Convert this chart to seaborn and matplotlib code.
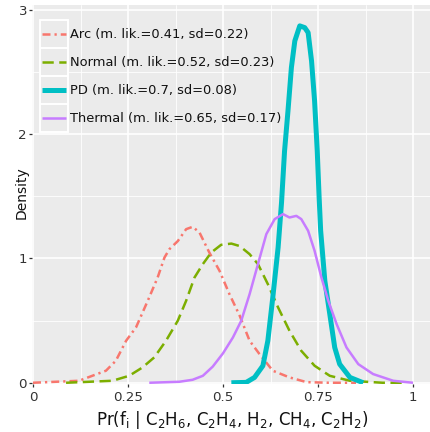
import numpy as np
import pandas as pd
import matplotlib
matplotlib.use("Agg")
import matplotlib.pyplot as plt
import seaborn as sns
from matplotlib.patches import Rectangle
from matplotlib.lines import Line2D
from matplotlib.legend_handler import HandlerBase
from matplotlib.ticker import FixedLocator

# ---- data ----
arc_x = [0.0, 0.121, 0.192, 0.218, 0.245, 0.271, 0.302, 0.328, 0.346, 0.359, 0.381, 0.403,
         0.42, 0.438, 0.464, 0.491, 0.517, 0.544, 0.57, 0.596, 0.631, 0.675, 0.72, 0.78, 0.85]
arc_y = [0.0, 0.016, 0.097, 0.177, 0.338, 0.445, 0.66, 0.847, 1.008, 1.075, 1.14, 1.236,
         1.255, 1.21, 1.048, 0.90, 0.713, 0.539, 0.338, 0.231, 0.097, 0.043, 0.005, 0.0, 0.0]

normal_x = [0.087, 0.209, 0.253, 0.288, 0.319, 0.35, 0.381, 0.403, 0.425, 0.447, 0.469, 0.495,
            0.522, 0.544, 0.57, 0.592, 0.618, 0.645, 0.675, 0.706, 0.741, 0.781, 0.834, 0.92, 0.984]
normal_y = [0.0, 0.016, 0.056, 0.123, 0.204, 0.338, 0.499, 0.66, 0.847, 0.955, 1.048, 1.11,
            1.12, 1.10, 1.035, 0.955, 0.794, 0.606, 0.418, 0.257, 0.137, 0.056, 0.016, 0.0, 0.0]

pd_x = [0.522, 0.561, 0.583, 0.605, 0.618, 0.631, 0.645, 0.654, 0.662, 0.671, 0.68, 0.689,
        0.702, 0.715, 0.724, 0.733, 0.741, 0.748, 0.753, 0.757, 0.768, 0.781, 0.794, 0.807,
        0.834, 0.869]
pd_y = [0.0, 0.003, 0.043, 0.137, 0.338, 0.686, 1.088, 1.45, 1.866, 2.188, 2.537, 2.751,
        2.872, 2.858, 2.818, 2.59, 2.269, 1.866, 1.49, 1.223, 0.82, 0.553, 0.284, 0.15,
        0.043, 0.0]

thermal_x = [0.306, 0.385, 0.42, 0.447, 0.473, 0.5, 0.526, 0.548, 0.57, 0.592, 0.614, 0.636,
             0.658, 0.675, 0.693, 0.706, 0.724, 0.741, 0.759, 0.777, 0.799, 0.825, 0.856,
             0.895, 0.948, 1.0]
thermal_y = [0.0, 0.008, 0.024, 0.056, 0.13, 0.237, 0.364, 0.499, 0.713, 0.955, 1.196, 1.317,
             1.357, 1.33, 1.343, 1.317, 1.223, 1.062, 0.847, 0.66, 0.472, 0.284, 0.15,
             0.07, 0.016, 0.0]

labels = ["Arc (m. lik.=0.41, sd=0.22)", "Normal (m. lik.=0.52, sd=0.23)",
          "PD (m. lik.=0.7, sd=0.08)", "Thermal (m. lik.=0.65, sd=0.17)"]
x_ticks = [0, 0.25, 0.5, 0.75, 1]
x_tick_labels = ["0", "0.25", "0.5", "0.75", "1"]
y_ticks = [0, 1, 2, 3]
y_tick_labels = ["0", "1", "2", "3"]

series = [(arc_x, arc_y), (normal_x, normal_y), (pd_x, pd_y), (thermal_x, thermal_y)]
frames = []
for lab, (xs, ys) in zip(labels, series):
    frames.append(pd.DataFrame({"x": xs, "density": ys, "group": lab}))
df = pd.concat(frames, ignore_index=True)

colors = ["#F8766D", "#7CAE00", "#00BFC4", "#C77CFF"]
widths = [1.8, 1.8, 3.6, 1.8]
dash_styles = [(3.2, 1.6, 0.9, 1.6), (4.5, 2.2), None, None]

sns.set_theme(style="darkgrid")
plt.rcParams["font.family"] = ["DejaVu Sans"]
plt.rcParams["mathtext.fontset"] = "dejavusans"

fig = plt.figure(figsize=(4.30, 4.32), dpi=100)
ax = fig.add_axes([32 / 430, 1 - 384 / 432, (430 - 32) / 430, (384 - 5) / 432])
ax.set_facecolor("#EBEBEB")


class KeyHandler(HandlerBase):
    def create_artists(self, legend, orig_handle, xdescent, ydescent, width, height,
                       fontsize, trans):
        color, lw, dashes = orig_handle
        x0, y0 = -xdescent, -ydescent
        r = Rectangle((x0, y0), width, height, facecolor="#EBEBEB", edgecolor="white",
                      linewidth=1.4, transform=trans)
        yc = y0 + height / 2.0
        ln = Line2D([x0 + 1.5, x0 + width - 1.5], [yc, yc], color=color, linewidth=lw,
                    solid_capstyle="butt")
        if dashes is not None:
            ln.set_dashes(dashes)
        ln.set_transform(trans)
        return [r, ln]


handles = []
for lab, c, w, d in zip(labels, colors, widths, dash_styles):
    sub = df[df["group"] == lab]
    sns.lineplot(data=sub, x="x", y="density", ax=ax, color=c, linewidth=w,
                 estimator=None, sort=True, legend=False)
    ln = ax.get_lines()[-1]
    ln.set_solid_capstyle("butt")
    ln.set_solid_joinstyle("round")
    if d is not None:
        ln.set_dashes(d)
    handles.append((c, w, d))

ax.set_xlim(-1 / 380, 397 / 380)
ax.set_ylim(-0.01, 3.04)
ax.xaxis.set_major_locator(FixedLocator(x_ticks))
ax.yaxis.set_major_locator(FixedLocator(y_ticks))
ax.set_xticklabels(x_tick_labels)
ax.set_yticklabels(y_tick_labels)
ax.xaxis.set_minor_locator(FixedLocator([0.125, 0.375, 0.625, 0.875]))
ax.yaxis.set_minor_locator(FixedLocator([0.5, 1.5, 2.5]))
ax.grid(which="major", color="white", linewidth=1.2)
ax.grid(which="minor", color="white", linewidth=0.6)
ax.set_axisbelow(True)
for s in ax.spines.values():
    s.set_visible(False)
ax.tick_params(axis="both", which="major", length=2.4, width=0.9, color="#333333",
               labelsize=9.6, labelcolor="#333333", pad=1.2,
               bottom=True, left=True)
ax.tick_params(axis="x", which="major", pad=2.5)
ax.tick_params(axis="both", which="minor", length=0)

ax.set_xlabel(r"Pr(f$_\mathregular{i}$ | C$_2$H$_6$, C$_2$H$_4$, H$_2$, CH$_4$, C$_2$H$_2$)",
              fontsize=12, color="#111111")
ax.xaxis.set_label_coords((232 - 32) / 398, -(409 - 384) / 379)
ax.xaxis.label.set_va("top")
ax.set_ylabel("Density", fontsize=10, color="#111111")
ax.yaxis.set_label_coords(-(32 - 29) / 398, (384 - 193) / 379)

fs = 9.4
em_pt = fs
row_pt = 28 * 72 / 100
hh = (row_pt / fs - 0.245) / 0.65
leg = ax.legend(handles, labels, handler_map={tuple: KeyHandler()},
                loc="upper left", bbox_to_anchor=(40 / 430, 1 - 20 / 432),
                bbox_transform=fig.transFigure, frameon=False, fontsize=fs,
                handlelength=row_pt / fs, handleheight=hh,
                labelspacing=0.0, handletextpad=0.15, borderpad=0, borderaxespad=0)
for t in leg.get_texts():
    t.set_color("#111111")

fig.savefig("out.png", dpi=100)
